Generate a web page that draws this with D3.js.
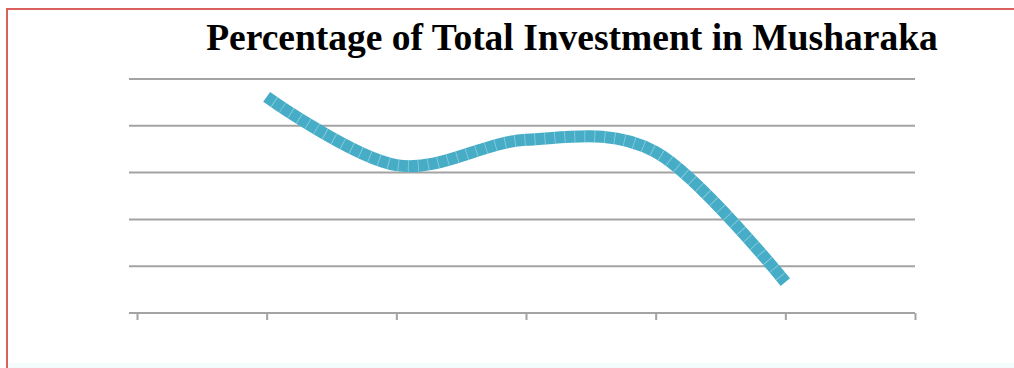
<!DOCTYPE html>
<html>
<head>
<meta charset="utf-8">
<script src="https://cdn.jsdelivr.net/npm/d3@7"></script>
<style>
  html, body { margin: 0; padding: 0; background: #fff; }
  svg { display: block; }
</style>
</head>
<body>
<svg id="chart" width="1014" height="368"></svg>
<script>
// ---- data ----
const title = "Percentage of Total Investment in Musharaka";
const categoryIndex = [0, 1, 2, 3, 4, 5, 6];      // tick positions on the category axis
const pointIndex = [1, 2, 3, 4, 5];                // categories that carry values
const values = [46.2, 31.6, 37.0, 34.4, 6.6];      // percentage
const gridTicks = [0, 10, 20, 30, 40, 50];

const svg = d3.select("#chart");
const W = 1014, H = 368;

// frame (only left and top edges visible in the crop)
svg.append("rect").attr("x", 7).attr("y", 9).attr("width", 1200).attr("height", 500)
  .attr("fill", "#fff").attr("stroke", "#d9605c").attr("stroke-width", 2);
svg.append("rect").attr("x", 8).attr("y", 363).attr("width", W).attr("height", 5).attr("fill", "#f3fbfc");

const x = d3.scaleLinear().domain([0, 6]).range([137, 915]);
const y = d3.scaleLinear().domain([0, 50]).range([313, 79]);
const gridX0 = 129, gridX1 = 915;

// gridlines
svg.append("g").selectAll("line").data(gridTicks.filter(d => d > 0)).join("line")
  .attr("x1", gridX0).attr("x2", gridX1)
  .attr("y1", d => y(d)).attr("y2", d => y(d))
  .attr("stroke", "#a3a3a3").attr("stroke-width", 2);

// x axis
const axis = d3.axisBottom(x).tickValues(categoryIndex).tickSize(7).tickFormat("");
const gx = svg.append("g").attr("transform", `translate(0,${y(0)})`).call(axis);
gx.select(".domain").remove();
gx.selectAll(".tick line").attr("stroke", "#a3a3a3").attr("stroke-width", 2);
svg.append("line").attr("x1", gridX0).attr("x2", gridX1).attr("y1", y(0)).attr("y2", y(0))
  .attr("stroke", "#a3a3a3").attr("stroke-width", 2);

// series line
const pts = pointIndex.map((c, i) => [x(c), y(values[i])]);
const line = d3.line().curve(d3.curveCatmullRom.alpha(0));
svg.append("path").attr("d", line(pts)).attr("fill", "none")
  .attr("stroke", "#47adc7").attr("stroke-width", 12).attr("stroke-linecap", "butt");
svg.append("path").attr("d", line(pts)).attr("fill", "none")
  .attr("stroke", "#a9dbe8").attr("stroke-width", 12).attr("stroke-linecap", "butt")
  .attr("stroke-dasharray", "0.8 9.2").attr("stroke-dashoffset", -9).attr("opacity", 0.7);

// title
svg.append("text").attr("x", 572).attr("y", 50).attr("text-anchor", "middle")
  .attr("font-family", "'Liberation Serif', 'Times New Roman', serif")
  .attr("font-weight", "bold").attr("font-size", 37.5).attr("fill", "#000")
  .text(title);
</script>
</body>
</html>
